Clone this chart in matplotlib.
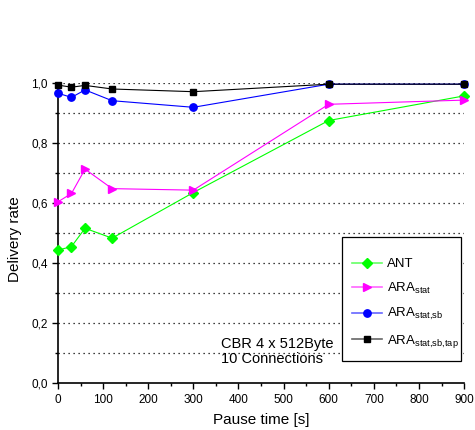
import numpy as np
import matplotlib
matplotlib.use("Agg")
import matplotlib.pyplot as plt
from matplotlib.lines import Line2D
from matplotlib.patches import Rectangle
from matplotlib.ticker import MultipleLocator, FuncFormatter

plt.rcParams['font.family'] = ['Liberation Sans', 'DejaVu Sans']
plt.rcParams['mathtext.fontset'] = 'custom'
plt.rcParams['mathtext.rm'] = 'Liberation Sans'
plt.rcParams['mathtext.it'] = 'Liberation Sans:italic'
plt.rcParams['font.size'] = 8.5

pause = [0, 30, 60, 120, 300, 600, 900]
ant = [0.443, 0.455, 0.516, 0.483, 0.635, 0.875, 0.957]
ara_stat = [0.604, 0.632, 0.713, 0.648, 0.643, 0.929, 0.943]
ara_sb = [0.966, 0.952, 0.977, 0.941, 0.919, 0.996, 0.996]
ara_tap = [0.993, 0.986, 0.992, 0.980, 0.971, 0.996, 0.996]

labels = ["ANT", r"ARA$_{\mathrm{stat}}$", r"ARA$_{\mathrm{stat{,}sb}}$", r"ARA$_{\mathrm{stat{,}sb{,}tap}}$"]
colors = ["#00ff00", "#ff00ff", "#0000ff", "#000000"]
light = ["#66ff66", "#ff66ff", "#6666ff", "#666666"]
markers = ["D", ">", "o", "s"]
msizes = [5, 5.5, 5.3, 5]

fig = plt.figure(figsize=(4.75, 4.3), dpi=100)
ax = fig.add_axes([0.122, 0.109, 0.855, 0.698])

handles = []
for ys, lab, c, lc, m, ms in zip([ant, ara_stat, ara_sb, ara_tap], labels, colors, light, markers, msizes):
    ax.plot(pause, ys, color=c, marker=m, markersize=ms, linewidth=0.8,
            clip_on=False, zorder=3)
    handles.append(Line2D([], [], color=lc, linewidth=1.2, marker=m, markersize=ms,
                          markerfacecolor=c, markeredgecolor=c, label=lab))

ax.set_xlim(0, 900)
ax.set_ylim(0, 1.0)
ax.xaxis.set_major_locator(MultipleLocator(100))
ax.xaxis.set_minor_locator(MultipleLocator(50))
ax.yaxis.set_major_locator(MultipleLocator(0.2))
ax.yaxis.set_minor_locator(MultipleLocator(0.1))
ax.yaxis.set_major_formatter(FuncFormatter(lambda v, p: f"{v:.1f}".replace(".", ",")))
ax.tick_params(which="major", length=4, width=1)
ax.tick_params(which="minor", length=2.5, width=1)

for yv in np.arange(0.1, 1.01, 0.1):
    ax.axhline(yv, color="black", linestyle=(0, (1, 3)), linewidth=0.9, zorder=1)

for s in ["top", "right"]:
    ax.spines[s].set_visible(False)
ax.spines["left"].set_linewidth(1.2)
ax.spines["bottom"].set_linewidth(1.2)

ax.set_xlabel("Pause time [s]", fontsize=11)
ax.set_ylabel("Delivery rate", fontsize=11)
ax.xaxis.set_label_coords(0.501, -0.1)
ax.yaxis.set_label_coords(-0.089, 0.48)

ax.text(361, 0.105, "CBR 4 x 512Byte\n10 Connections", ha="left", va="center",
        fontsize=10.5, linespacing=1.1)

# legend box drawn separately so the padding can match
ax.add_patch(Rectangle((0.6995, 0.0733), 0.2931, 0.4134, transform=ax.transAxes,
                       facecolor="white", edgecolor="black", linewidth=0.9, zorder=4))
leg = ax.legend(handles=handles, loc="upper left", bbox_to_anchor=(0.7241, 0.417),
                frameon=False, fontsize=9.5, handlelength=2.27, borderpad=0,
                labelspacing=0.8, handletextpad=0.38, borderaxespad=0)
leg.set_zorder(5)

fig.savefig("out.png", dpi=100)
